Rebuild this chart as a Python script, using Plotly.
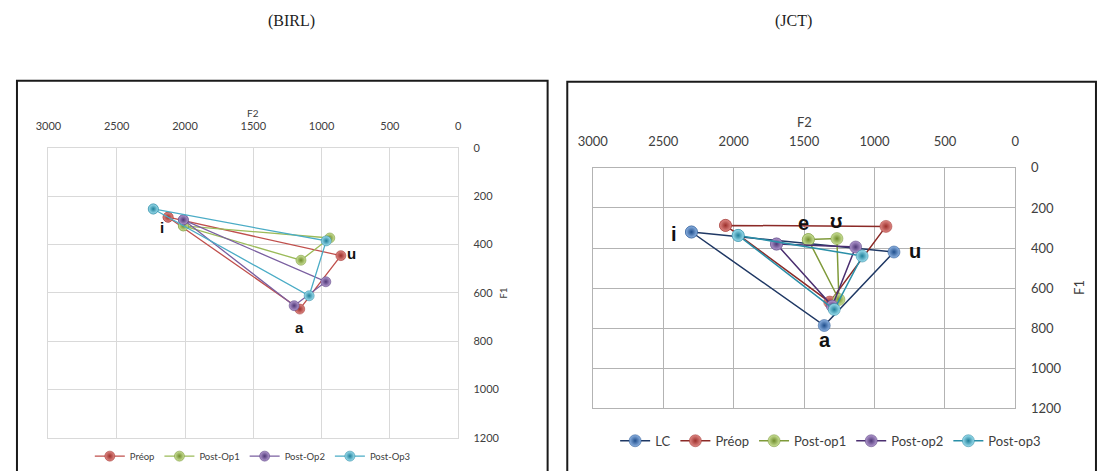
import plotly.graph_objects as go

# ---- data: left panel (BIRL), points ordered i, u, a, i (closed triangle)
birl_series = ["Préop", "Post-Op1", "Post-Op2", "Post-Op3"]
birl_f2 = {
    "Préop": [2124, 859, 1160, 2124],
    "Post-Op1": [2012, 940, 1151, 2012],
    "Post-Op2": [2012, 969, 1201, 2012],
    "Post-Op3": [2232, 966, 1091, 2232],
}
birl_f1 = {
    "Préop": [287, 446, 667, 287],
    "Post-Op1": [323, 373, 465, 323],
    "Post-Op2": [298, 554, 653, 298],
    "Post-Op3": [253, 385, 612, 253],
}

# ---- data: right panel (JCT)
jct_series = ["LC", "Préop", "Post-op1", "Post-op2", "Post-op3"]
jct_f2 = {
    "LC": [2300, 862, 1357, 2300],
    "Préop": [2058, 919, 1318, 2058],
    "Post-op1": [1470, 1267, 1253, 1470],
    "Post-op2": [1696, 1134, 1300, 1696],
    "Post-op3": [1968, 1088, 1286, 1968],
}
jct_f1 = {
    "LC": [320, 420, 787, 320],
    "Préop": [287, 292, 670, 287],
    "Post-op1": [358, 353, 657, 358],
    "Post-op2": [380, 395, 690, 380],
    "Post-op3": [337, 440, 707, 337],
}

f2_ticks = [3000, 2500, 2000, 1500, 1000, 500, 0]
f1_ticks = [0, 200, 400, 600, 800, 1000, 1200]

# (light centre, dark edge, line colour)
birl_colors = {
    "Préop": ("#e08a86", "#9c2f2b", "#c0504d"),
    "Post-Op1": ("#cde39a", "#6f8c2c", "#9bbb59"),
    "Post-Op2": ("#b39ad0", "#4f3777", "#7a5fa0"),
    "Post-Op3": ("#9fe0f0", "#1f7f99", "#4bacc6"),
}
jct_colors = {
    "LC": ("#8fb4e3", "#1f4e8c", "#1f3864"),
    "Préop": ("#e08a86", "#9c2f2b", "#8b2a27"),
    "Post-op1": ("#cde39a", "#6f8c2c", "#7f9a3a"),
    "Post-op2": ("#b39ad0", "#4f3777", "#4b2f70"),
    "Post-op3": ("#9fe0f0", "#1f7f99", "#2a8fa8"),
}

W, H = 1098, 471
TICK_FONT = "Lato, Liberation Sans, Arial"
LABEL_FONT = "Liberation Sans, Arial"

fig = go.Figure()

for name in birl_series:
    light, dark, line = birl_colors[name]
    fig.add_trace(go.Scatter(
        x=birl_f2[name], y=birl_f1[name], name=name, mode="lines+markers",
        xaxis="x", yaxis="y", legend="legend",
        line={"color": line, "width": 1.3},
        marker={"size": 10, "color": light, "gradient": {"type": "radial", "color": dark},
                "line": {"color": dark, "width": 0.5}},
    ))

for name in jct_series:
    light, dark, line = jct_colors[name]
    fig.add_trace(go.Scatter(
        x=jct_f2[name], y=jct_f1[name], name=name, mode="lines+markers",
        xaxis="x2", yaxis="y2", legend="legend2",
        line={"color": line, "width": 1.5},
        marker={"size": 12, "color": light, "gradient": {"type": "radial", "color": dark},
                "line": {"color": dark, "width": 0.5}},
    ))


def px_x(p):
    return p / W


def px_y(p):
    return 1 - p / H


def xaxis_cfg(dom, anchor, grid, size, standoff):
    return dict(
        domain=dom, anchor=anchor, range=[3000, 0], side="top", tickvals=f2_ticks, ticks="",
        showgrid=True, gridcolor=grid, gridwidth=1, zeroline=False,
        showline=True, linecolor=grid, mirror=True, linewidth=1,
        tickfont={"family": TICK_FONT, "size": size, "color": "#404040"},
        ticklabelstandoff=standoff,
    )


def yaxis_cfg(dom, anchor, grid, size, standoff):
    return dict(
        domain=dom, range=[1200, 0], side="right", anchor=anchor, tickvals=f1_ticks, ticks="",
        showgrid=True, gridcolor=grid, gridwidth=1, zeroline=False,
        showline=True, linecolor=grid, mirror=True, linewidth=1,
        tickfont={"family": TICK_FONT, "size": size, "color": "#404040"},
        ticklabelstandoff=standoff,
    )


fig.update_layout(
    width=W, height=H, margin={"l": 0, "r": 0, "t": 0, "b": 0},
    paper_bgcolor="white", plot_bgcolor="white",
    xaxis=xaxis_cfg([px_x(34), px_x(451)], "y", "#d9d9d9", 11, 12),
    yaxis=yaxis_cfg([px_y(449), px_y(146)], "x", "#d9d9d9", 11, 12),
    xaxis2=xaxis_cfg([px_x(588), px_x(1018)], "y2", "#b3b3b3", 13, 16),
    yaxis2=yaxis_cfg([px_y(418), px_y(167)], "x2", "#b3b3b3", 13, 12),
    legend=dict(orientation="h", x=px_x(242), xanchor="center", y=px_y(468), yanchor="middle",
                font={"family": TICK_FONT, "size": 9.5, "color": "#404040"},
                itemwidth=30, bgcolor="rgba(0,0,0,0)"),
    legend2=dict(orientation="h", x=px_x(830), xanchor="center", y=px_y(452), yanchor="middle",
                 font={"family": TICK_FONT, "size": 13, "color": "#404040"},
                 itemwidth=30, bgcolor="rgba(0,0,0,0)"),
    showlegend=True,
)

# outer chart frames (bottom edge runs past the image, as in the cropped original)
fig.add_shape(type="rect", xref="paper", yref="paper", x0=px_x(2), x1=px_x(542), y0=-0.06, y1=px_y(76),
              line={"color": "#1a1a1a", "width": 2})
fig.add_shape(type="rect", xref="paper", yref="paper", x0=px_x(562), x1=px_x(1100), y0=-0.06, y1=px_y(77),
              line={"color": "#1a1a1a", "width": 2})


def paper_text(text, cx, cy, font, angle=0):
    fig.add_annotation(text=text, xref="paper", yref="paper", x=px_x(cx), y=px_y(cy),
                       xanchor="center", yanchor="middle", textangle=angle, showarrow=False, font=font)


# panel captions
paper_text("(BIRL)", 281, 14, {"family": "Liberation Serif, serif", "size": 16, "color": "#222"})
paper_text("(JCT)", 792, 14, {"family": "Liberation Serif, serif", "size": 16, "color": "#222"})

# axis titles
paper_text("F2", 242, 110, {"family": TICK_FONT, "size": 10, "color": "#404040"})
paper_text("F2", 803, 119, {"family": TICK_FONT, "size": 13, "color": "#404040"})
paper_text("F1", 497, 297, {"family": TICK_FONT, "size": 10, "color": "#404040"}, -90)
paper_text("F1", 1082, 292, {"family": TICK_FONT, "size": 13, "color": "#404040"}, -90)

# vowel labels anchored on data points
birl_labels = [("i", "Préop", 0, -6, -10), ("u", "Préop", 1, 11, 2), ("a", "Préop", 2, 0, -18)]
for text, ser, idx, dx, dy in birl_labels:
    fig.add_annotation(text=f"<b>{text}</b>", x=birl_f2[ser][idx], y=birl_f1[ser][idx], xref="x", yref="y",
                       xanchor="center", yanchor="middle", xshift=dx, yshift=dy, showarrow=False,
                       font={"family": LABEL_FONT, "size": 15, "color": "#111"})

jct_labels = [("i", "LC", 0, -17, -2), ("e", "Post-op1", 0, -5, 17), ("ʊ", "Post-op1", 1, -1, 18),
              ("u", "LC", 1, 21, 1), ("a", "LC", 2, 1, -14)]
for text, ser, idx, dx, dy in jct_labels:
    fig.add_annotation(text=f"<b>{text}</b>", x=jct_f2[ser][idx], y=jct_f1[ser][idx], xref="x2", yref="y2",
                       xanchor="center", yanchor="middle", xshift=dx, yshift=dy, showarrow=False,
                       font={"family": LABEL_FONT, "size": 20, "color": "#111"})

fig.write_html("out.html", config={"displayModeBar": False},
               post_script="document.body.style.margin='0';document.body.style.overflow='hidden';")
